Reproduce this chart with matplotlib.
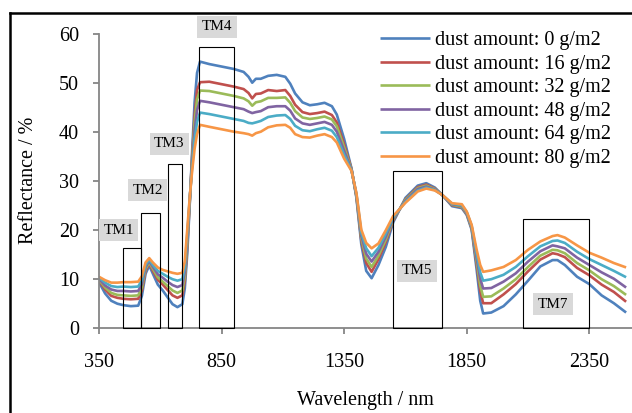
import numpy as np
import matplotlib
matplotlib.use("Agg")
import matplotlib.pyplot as plt
from matplotlib.patches import Rectangle
from matplotlib.lines import Line2D

plt.rcParams['font.family'] = ['Liberation Serif', 'DejaVu Serif']

# wavelength (nm) and reflectance (%)
wavelength = [350, 375, 400, 425, 450, 480, 510, 525, 540, 555, 570, 590, 610, 630, 650, 670,
              690, 700, 710, 720, 730, 740, 750, 762, 800, 850, 900, 940, 960, 975, 990, 1010,
              1040, 1075, 1110, 1130, 1150, 1180, 1210, 1240, 1270, 1300, 1320, 1350, 1380,
              1400, 1420, 1440, 1462, 1490, 1520, 1550, 1600, 1650, 1685, 1720, 1750, 1790,
              1830, 1850, 1870, 1890, 1905, 1917, 1950, 2000, 2050, 2100, 2150, 2200, 2220,
              2250, 2300, 2350, 2400, 2450, 2500]

dust_0 = [9.3, 7.0, 5.5, 4.9, 4.6, 4.4, 4.5, 6.5, 11.0, 12.7, 11.0, 8.8, 7.6, 6.2, 4.8, 4.2,
          4.8, 8.0, 15.0, 25.0, 36.0, 46.0, 52.0, 54.3, 53.8, 53.3, 52.8, 52.2, 51.2, 50.0, 50.8, 50.8,
          51.4, 51.6, 51.2, 49.8, 47.8, 46.0, 45.4, 45.6, 45.9, 45.2, 43.5, 38.5, 32.5,
          26.5, 17.0, 11.6, 10.1, 12.8, 16.5, 21.5, 26.5, 29.0, 29.5, 28.6, 27.1, 24.8,
          24.4, 23.0, 20.0, 12.0, 5.5, 2.9, 3.1, 4.4, 6.8, 9.6, 12.5, 13.8, 13.8,
          12.8, 10.4, 8.9, 6.6, 5.0, 3.1]
dust_16 = [9.6, 7.8, 6.5, 6.1, 5.9, 5.8, 5.9, 7.6, 11.6, 13.1, 11.6, 9.8, 8.8, 7.7, 6.6, 6.1,
           6.6, 9.5, 16.4, 25.4, 34.9, 43.3, 48.5, 50.1, 50.2, 49.7, 49.2, 48.7, 47.9, 46.8, 47.7, 47.8,
           48.5, 48.3, 48.5, 47.3, 45.5, 44.0, 43.6, 43.8, 44.1, 43.4, 41.9, 37.4, 32.4,
           26.8, 17.8, 13.2, 11.4, 14.0, 17.5, 21.9, 26.2, 28.7, 29.2, 28.4, 27.1, 25.0,
           24.6, 23.2, 20.3, 13.1, 7.5, 5.0, 5.0, 6.8, 8.9, 11.5, 13.9, 15.2, 15.0,
           14.4, 12.2, 10.7, 8.8, 7.3, 5.3]
dust_32 = [9.8, 8.2, 7.1, 6.7, 6.6, 6.5, 6.6, 8.2, 12.0, 13.3, 12.0, 10.3, 9.4, 8.5, 7.6, 7.1,
           7.6, 10.4, 17.2, 25.6, 34.3, 41.9, 46.6, 48.4, 48.3, 47.8, 47.3, 46.8, 46.2, 45.3, 46.0, 46.2,
           46.9, 46.9, 47.0, 45.9, 44.2, 42.9, 42.6, 42.8, 43.1, 42.5, 41.1, 36.8, 32.3,
           26.9, 18.3, 14.1, 12.4, 14.7, 18.0, 22.1, 26.1, 28.5, 29.0, 28.3, 27.1, 25.1,
           24.7, 23.3, 20.4, 13.7, 8.6, 6.3, 6.4, 8.0, 9.9, 12.4, 14.7, 15.9, 15.8,
           15.2, 13.2, 11.7, 9.9, 8.5, 6.7]
dust_48 = [10.0, 8.6, 7.8, 7.5, 7.5, 7.4, 7.5, 8.9, 12.4, 13.6, 12.4, 10.9, 10.2, 9.4, 8.7, 8.3,
           8.7, 11.4, 18.1, 25.9, 33.6, 40.2, 44.4, 46.3, 46.0, 45.5, 45.0, 44.6, 44.1, 43.8, 44.0, 44.2,
           45.0, 45.2, 45.2, 44.3, 42.7, 41.7, 41.4, 41.7, 42.0, 41.4, 40.0, 36.1, 32.2,
           27.1, 18.8, 15.1, 13.5, 15.5, 18.6, 22.3, 25.9, 28.3, 28.8, 28.2, 27.1, 25.2,
           24.9, 23.4, 20.6, 14.4, 10.0, 8.0, 8.1, 9.4, 11.1, 13.5, 15.6, 16.8, 16.6,
           16.2, 14.3, 12.8, 11.3, 10.0, 8.2]
dust_64 = [10.2, 9.2, 8.5, 8.3, 8.4, 8.3, 8.4, 9.7, 12.8, 13.9, 12.8, 11.6, 11.0, 10.4, 9.9, 9.6,
           9.9, 12.4, 19.0, 26.2, 32.8, 38.4, 42.0, 43.9, 43.6, 43.1, 42.6, 42.2, 41.8, 41.7, 41.9, 42.2,
           43.0, 43.3, 43.4, 42.6, 41.2, 40.3, 40.1, 40.5, 40.8, 40.2, 38.9, 35.3, 32.1,
           27.3, 19.4, 16.2, 14.6, 16.3, 19.2, 22.5, 25.7, 28.0, 28.6, 28.1, 27.1, 25.3,
           25.0, 23.6, 20.8, 15.2, 11.3, 9.6, 9.9, 10.8, 12.4, 14.6, 16.6, 17.7, 17.8,
           17.3, 15.5, 14.0, 12.8, 11.6, 10.3]
dust_80 = [10.4, 9.7, 9.2, 9.2, 9.3, 9.3, 9.4, 10.5, 13.3, 14.2, 13.3, 12.3, 11.8, 11.5, 11.2, 11.0,
           11.2, 13.5, 20.0, 26.5, 32.0, 36.5, 39.5, 41.4, 41.0, 40.5, 40.0, 39.7, 39.5, 39.2, 39.7, 40.0,
           40.9, 41.3, 41.4, 40.8, 39.5, 38.9, 38.8, 39.2, 39.5, 38.9, 37.8, 34.5, 32.0,
           27.5, 20.0, 17.3, 16.2, 17.2, 19.9, 22.8, 25.5, 27.8, 28.4, 28.0, 27.1, 25.4,
           25.2, 23.7, 21.0, 16.0, 12.8, 11.4, 11.7, 12.4, 13.8, 15.9, 17.6, 18.7, 18.9,
           18.4, 16.8, 15.3, 14.3, 13.2, 12.3]

series = [dust_0, dust_16, dust_32, dust_48, dust_64, dust_80]
labels = ["dust amount: 0 g/m2", "dust amount: 16 g/m2", "dust amount: 32 g/m2",
          "dust amount: 48 g/m2", "dust amount: 64 g/m2", "dust amount: 80 g/m2"]
colors = ["#4F81BD", "#C0504D", "#9BBB59", "#8064A2", "#4BACC6", "#F79646"]

# Landsat TM bands: name, start, end, box height, label x, label y
bands = ["TM1", "TM2", "TM3", "TM4", "TM5", "TM7"]
band_start = [450, 520, 630, 760, 1550, 2080]
band_end = [520, 600, 690, 900, 1750, 2350]
band_top = [16.3, 23.5, 33.4, 57.3, 32.0, 22.1]
label_x = [430, 548, 637, 831, 1647, 2201]
label_y = [19.9, 28.1, 37.5, 61.4, 11.6, 4.8]

fig = plt.figure(figsize=(6.32, 4.13), dpi=100)
ax = fig.add_axes([0.1566, 0.2065, 0.8434, 0.7119])

for vals, lab, c in zip(series, labels, colors):
    ax.plot(wavelength, vals, color=c, lw=1.9, label=lab, solid_capstyle='butt')

for name, s, e, h, lx, ly in zip(bands, band_start, band_end, band_top, label_x, label_y):
    ax.add_patch(Rectangle((s, 0), e - s, h, fill=False, ec='black', lw=0.8, zorder=5,
                           clip_on=False))
    ax.text(lx, ly, name, fontsize=11, ha='center', va='center', zorder=6, clip_on=False,
            bbox=dict(boxstyle='square,pad=0.3', fc='#d9d9d9', ec='none'))

ax.set_xlim(350, 2524)
ax.set_ylim(0, 60)
ax.set_xticks([350, 850, 1350, 1850, 2350])
ax.set_yticks(range(0, 61, 10))

for side in ['top', 'right']:
    ax.spines[side].set_visible(False)
for side in ['left', 'bottom']:
    ax.spines[side].set_color('#868686')
    ax.spines[side].set_linewidth(1.3)

ax.tick_params(axis='both', colors='#868686', labelcolor='black', labelsize=14.5,
               direction='out', length=4.3, width=1.3)
ax.tick_params(axis='y', pad=10)
ax.tick_params(axis='x', pad=14)

ax.set_xlabel("Wavelength / nm", fontsize=14.5)
ax.set_ylabel("Reflectance / %", fontsize=14.5)
ax.xaxis.set_label_coords(0.5, -0.246)
ax.xaxis.label.set_va('center')
ax.yaxis.set_label_coords(-0.132, 0.5)
ax.yaxis.label.set_va('center')

ax.legend(loc='upper left', bbox_to_anchor=(380 / 632, 1 - 31 / 413),
          bbox_transform=fig.transFigure, frameon=False, fontsize=14.5,
          handlelength=2.5, handletextpad=0.25, labelspacing=0.22,
          borderpad=0, borderaxespad=0)

# outer chart frame (left and top edges visible)
fig.add_artist(Line2D([10 / 632, 10 / 632], [0, 1 - 13 / 413], color='black', lw=1.8,
                      transform=fig.transFigure))
fig.add_artist(Line2D([10 / 632, 1], [1 - 13 / 413, 1 - 13 / 413], color='black', lw=1.8,
                      transform=fig.transFigure))

fig.savefig("out.png", dpi=100)
